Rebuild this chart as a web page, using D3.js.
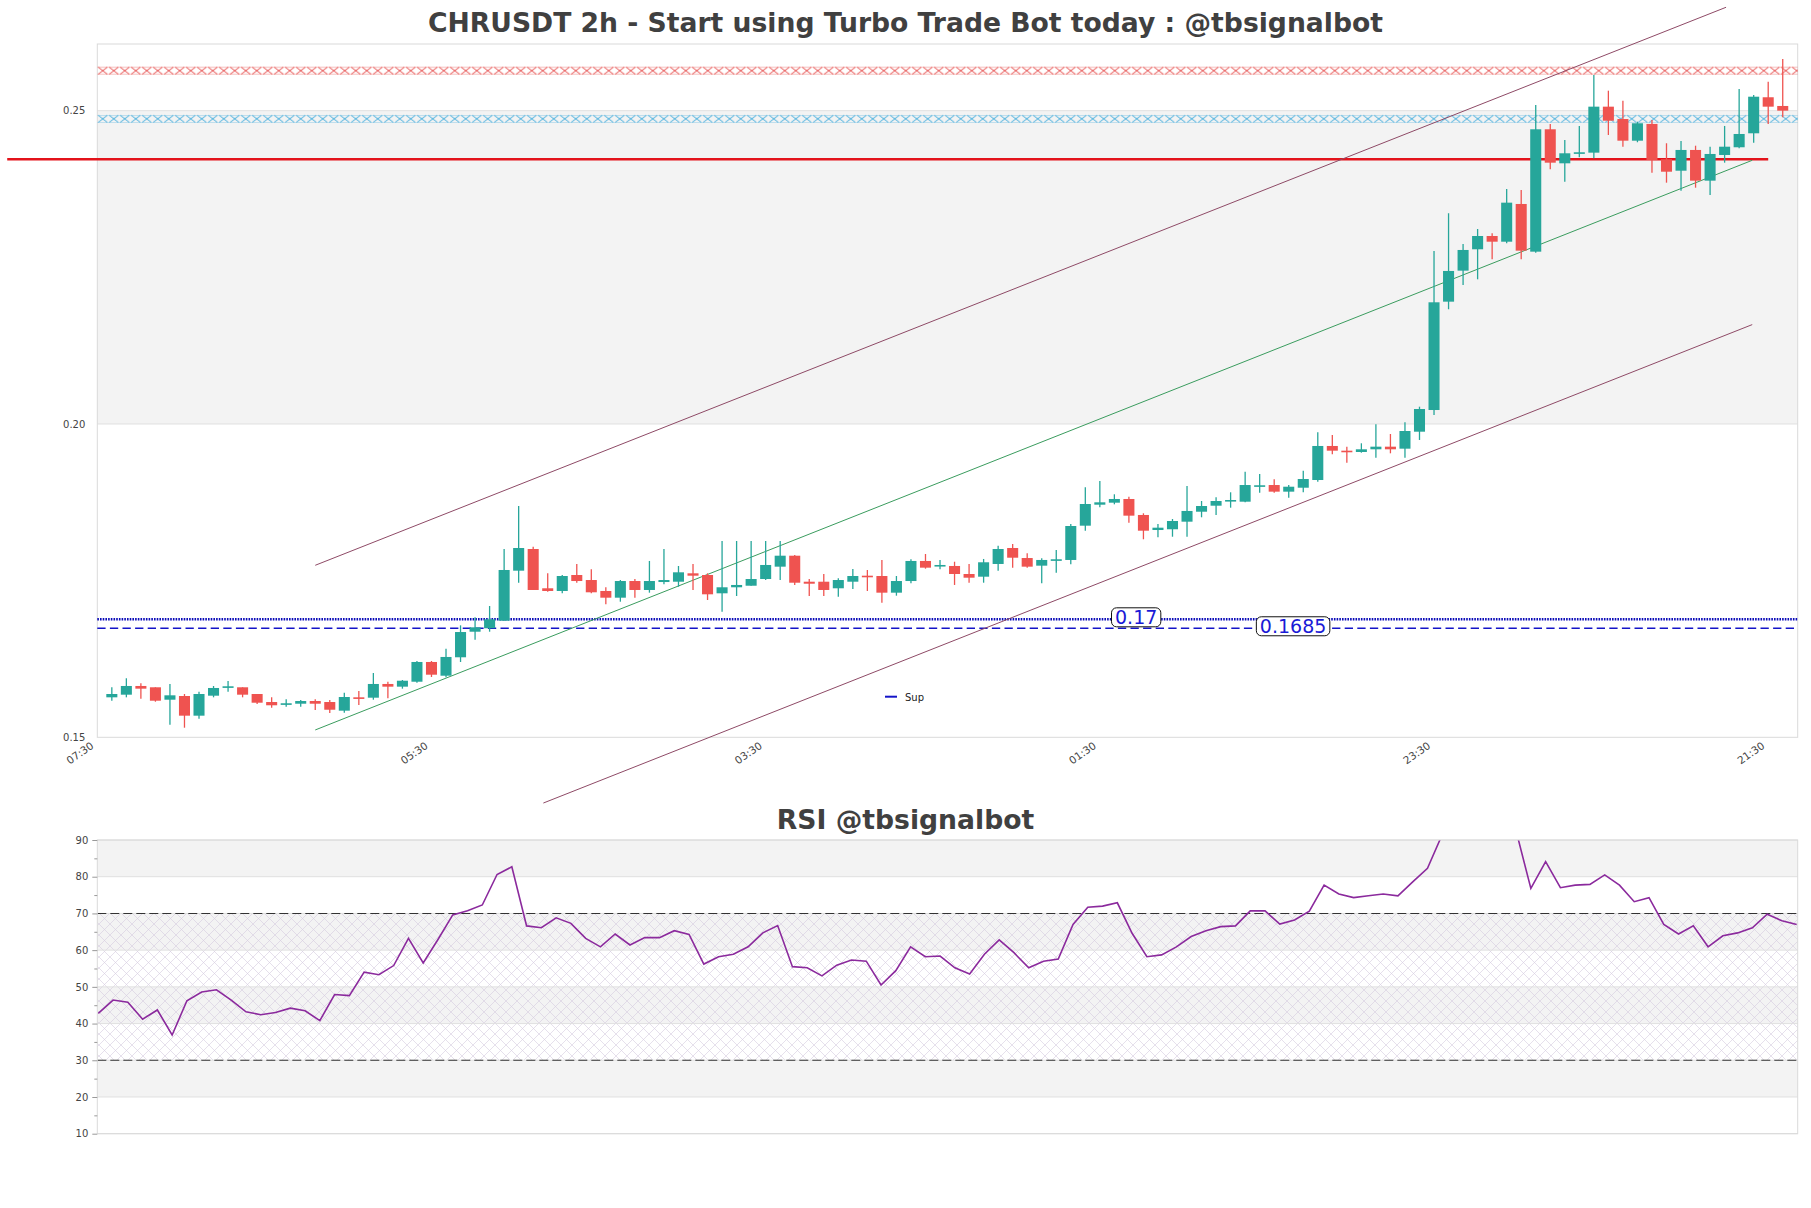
<!DOCTYPE html>
<html>
<head>
<meta charset="utf-8">
<script src="https://cdn.jsdelivr.net/npm/d3@7"></script>
<style>
  body { margin: 0; background: #fff; }
  svg { display: block; }
</style>
</head>
<body>
<div id="chart"></div>
<script>
// CHRUSDT 2h candles (index 0 = first candle)
var openP = [0.15638,0.15680,0.15819,0.15798,0.15600,0.15659,0.15345,0.15664,0.15803,0.15798,
  0.15691,0.15563,0.15531,0.15536,0.15579,0.15563,0.15425,0.15638,0.15632,0.15851,
  0.15808,0.15887,0.16202,0.15983,0.16277,0.16685,0.16740,0.16861,0.17659,0.18005,
  0.17378,0.17335,0.17590,0.17510,0.17335,0.17228,0.17494,0.17351,0.17478,0.17483,
  0.17617,0.17590,0.17298,0.17394,0.17419,0.17526,0.17723,0.17898,0.17483,0.17483,
  0.17378,0.17483,0.17579,0.17574,0.17308,0.17494,0.17814,0.17734,0.17734,0.17606,
  0.17563,0.17766,0.18021,0.17861,0.17739,0.17825,0.17830,0.18377,0.18712,0.18744,
  0.18803,0.18548,0.18308,0.18320,0.18441,0.18600,0.18696,0.18771,0.18760,0.19006,
  0.19026,0.18920,0.18983,0.19106,0.19649,0.19574,0.19553,0.19596,0.19638,0.19606,
  0.19877,0.20223,0.21952,0.22447,0.22788,0.23000,0.22909,0.23511,0.22750,0.24703,
  0.24160,0.24320,0.24330,0.25064,0.24867,0.24521,0.24788,0.24224,0.24042,0.24373,
  0.23883,0.24293,0.24416,0.24639,0.25214,0.25075];
var highP = [0.15798,0.15942,0.15862,0.15798,0.15851,0.15691,0.15728,0.15819,0.15899,0.15798,
  0.15691,0.15638,0.15606,0.15595,0.15606,0.15595,0.15712,0.15739,0.16026,0.15887,
  0.15914,0.16218,0.16218,0.16414,0.16787,0.16915,0.17095,0.18005,0.18691,0.18042,
  0.17617,0.17590,0.17766,0.17681,0.17394,0.17510,0.17526,0.17814,0.18005,0.17734,
  0.17766,0.17617,0.18133,0.18133,0.18133,0.18133,0.18133,0.17909,0.17526,0.17606,
  0.17537,0.17686,0.17670,0.17830,0.17574,0.17841,0.17925,0.17830,0.17802,0.17766,
  0.17846,0.18058,0.18085,0.17936,0.17857,0.17989,0.18404,0.18990,0.19090,0.18878,
  0.18840,0.18575,0.18404,0.18484,0.19011,0.18771,0.18830,0.18910,0.19239,0.19202,
  0.19117,0.19026,0.19255,0.19868,0.19824,0.19638,0.19692,0.19995,0.19840,0.20027,
  0.20276,0.22761,0.23363,0.22873,0.23112,0.23043,0.23750,0.23734,0.25091,0.24788,
  0.24532,0.24756,0.25570,0.25319,0.25160,0.24824,0.24852,0.24480,0.24516,0.24441,
  0.24425,0.24756,0.25346,0.25251,0.25463,0.25825];
var lowP = [0.15584,0.15638,0.15616,0.15568,0.15201,0.15153,0.15297,0.15638,0.15728,0.15638,
  0.15531,0.15472,0.15488,0.15488,0.15436,0.15388,0.15393,0.15515,0.15600,0.15622,
  0.15776,0.15871,0.15962,0.15958,0.16202,0.16558,0.16685,0.16861,0.17467,0.17351,
  0.17324,0.17298,0.17467,0.17298,0.17123,0.17164,0.17228,0.17308,0.17442,0.17403,
  0.17351,0.17191,0.17004,0.17255,0.17419,0.17510,0.17510,0.17431,0.17255,0.17255,
  0.17244,0.17367,0.17335,0.17148,0.17260,0.17458,0.17691,0.17681,0.17431,0.17467,
  0.17467,0.17659,0.17707,0.17707,0.17458,0.17627,0.17761,0.18297,0.18671,0.18718,
  0.18425,0.18160,0.18192,0.18201,0.18201,0.18511,0.18548,0.18664,0.18750,0.18904,
  0.18904,0.18824,0.18910,0.19079,0.19516,0.19382,0.19542,0.19462,0.19532,0.19462,
  0.19745,0.20144,0.21831,0.22218,0.22309,0.22628,0.22884,0.22628,0.22734,0.24065,
  0.23867,0.24256,0.24240,0.24612,0.24425,0.24496,0.24010,0.23851,0.23723,0.23771,
  0.23655,0.24170,0.24400,0.24489,0.24788,0.24895];
var closeP = [0.15691,0.15819,0.15776,0.15584,0.15670,0.15345,0.15691,0.15787,0.15814,0.15680,
  0.15552,0.15511,0.15543,0.15579,0.15536,0.15440,0.15643,0.15622,0.15851,0.15808,
  0.15903,0.16202,0.15999,0.16282,0.16680,0.16755,0.16883,0.17670,0.18021,0.17351,
  0.17335,0.17574,0.17494,0.17314,0.17228,0.17494,0.17351,0.17494,0.17510,0.17633,
  0.17579,0.17282,0.17394,0.17431,0.17526,0.17750,0.17898,0.17467,0.17451,0.17351,
  0.17510,0.17574,0.17563,0.17308,0.17494,0.17814,0.17707,0.17750,0.17606,0.17547,
  0.17793,0.18005,0.17866,0.17723,0.17830,0.17841,0.18372,0.18723,0.18750,0.18803,
  0.18537,0.18297,0.18345,0.18452,0.18612,0.18691,0.18771,0.18787,0.19026,0.19022,
  0.18920,0.18999,0.19122,0.19649,0.19574,0.19558,0.19596,0.19638,0.19596,0.19888,
  0.20239,0.21942,0.22442,0.22777,0.23000,0.22909,0.23532,0.22766,0.24703,0.24170,
  0.24320,0.24336,0.25064,0.24840,0.24521,0.24799,0.24213,0.24026,0.24373,0.23883,
  0.24309,0.24425,0.24628,0.25223,0.25064,0.25000];

// RSI(14), one value per candle
var rsiVals = [42.8,46.4,45.8,41.2,43.7,36.9,46.2,48.6,49.2,46.4,
  43.2,42.4,43.0,44.2,43.5,40.8,47.9,47.6,54.0,53.3,
  55.8,63.2,56.5,62.9,69.6,70.7,72.3,80.6,82.7,66.6,
  66.1,68.8,67.3,63.2,60.9,64.4,61.4,63.4,63.4,65.3,
  64.3,56.2,58.2,58.9,60.9,64.7,66.7,55.5,55.2,53.0,
  55.9,57.3,57.0,50.5,54.4,60.9,58.2,58.4,55.2,53.5,
  58.9,62.8,59.3,55.2,57.0,57.6,67.0,71.7,72.0,72.9,
  64.6,58.2,58.7,60.9,63.7,65.3,66.4,66.6,70.7,70.7,
  67.1,68.2,70.6,77.7,75.3,74.3,74.8,75.3,74.8,78.6,
  82.3,91.5,94.5,95.3,95.8,93.6,92.5,76.8,84.1,77.0,
  77.7,77.9,80.5,77.7,73.2,74.3,67.0,64.4,66.6,60.9,
  63.9,64.7,66.1,69.8,68.0,67.0];

// x axis: candle index of each label (index -1 is the 07:30 bar before the first)
var tickIdx = [-1, 22, 45, 68, 91, 114];
var tickLabels = ["07:30", "05:30", "03:30", "01:30", "23:30", "21:30"];
var priceTicks = [0.15, 0.20, 0.25];
var rsiTicks = [10, 20, 30, 40, 50, 60, 70, 80, 90];

// levels
var resistLevels = [0.25638, 0.24870];           // x-hatched zones
var resistColors = ["#e2302f", "#27a1d9"];
var keyLevel = 0.24224, keyFrom = -7.2, keyTo = 114;
var supLevels = [0.16883, 0.16740];
var supLabels = ["0.17", "0.1685"];
var supLabelIdx = [70.5, 81.3];

// regression channel [index, price]
var chanUpper = [[14, 0.17745], [111.1, 0.26650]];
var chanMid = [[14, 0.15117], [112.9, 0.24208]];
var chanLower = [[29.7, 0.13951], [112.9, 0.21586]];

var W = 1811, H = 1208;
var main = { left: 97.3, right: 1797.7, top: 44, bottom: 737.3 };
var rsiBox = { left: 97.3, right: 1797.7, top: 840, bottom: 1133.7 };

var svg = d3.select("#chart").append("svg")
    .attr("width", W).attr("height", H)
    .style("font-family", "'DejaVu Sans', sans-serif");
var defs = svg.append("defs");

var x = d3.scaleLinear().domain([-1, 116.03]).range([main.left, main.right]);
var y = d3.scaleLinear().domain([0.15, 0.26064]).range([main.bottom, main.top]);
var step = x(1) - x(0);

// title text, scaled so it spans the same width as the original
function title(txt, yPos, width) {
    var t = svg.append("text")
        .attr("x", W / 2).attr("y", yPos)
        .attr("text-anchor", "middle")
        .attr("fill", "#404040").style("font-family", "'DejaVu Sans', sans-serif")
        .style("font-weight", 700).style("font-size", "26px")
        .text(txt);
    var w = t.node().getComputedTextLength();
    t.style("font-size", (26 * width / w).toFixed(2) + "px");
}

// ---------- main panel ----------
var g = svg.append("g");

g.append("rect")
    .attr("x", main.left).attr("y", y(0.25))
    .attr("width", main.right - main.left).attr("height", y(0.20) - y(0.25))
    .attr("fill", "#f3f3f3");

g.selectAll(".grid").data([0.20, 0.25]).enter().append("line")
    .attr("x1", main.left).attr("x2", main.right)
    .attr("y1", d => y(d)).attr("y2", d => y(d))
    .attr("stroke", "#e0e0e0");

g.append("rect")
    .attr("x", main.left).attr("y", main.top)
    .attr("width", main.right - main.left).attr("height", main.bottom - main.top)
    .attr("fill", "none").attr("stroke", "#dadada");

// y labels
g.append("g")
    .attr("transform", `translate(${main.left - 9},0)`)
    .call(d3.axisLeft(y).tickValues(priceTicks).tickSize(0).tickFormat(d3.format(".2f")))
    .call(a => a.select(".domain").remove())
    .selectAll("text")
    .attr("fill", "#444").style("font-size", "10px").style("font-family", "'DejaVu Sans', sans-serif");

// x labels
g.selectAll(".xlab").data(tickIdx).enter().append("text")
    .attr("transform", d => `translate(${x(d) - 7},${main.bottom + 4}) rotate(-35)`)
    .attr("text-anchor", "end").attr("dy", "0.7em")
    .attr("fill", "#444").style("font-size", "10.5px")
    .text((d, i) => tickLabels[i]);

// hatched resistance zones
resistLevels.forEach(function(v, k) {
    var top = y(v) - 4;
    var p = defs.append("pattern").attr("id", "xh" + k)
        .attr("patternUnits", "userSpaceOnUse")
        .attr("x", main.left).attr("y", top)
        .attr("width", 11).attr("height", 8);
    p.append("path")
        .attr("d", "M1,0.5L10,7.5M10,0.5L1,7.5")
        .attr("stroke", resistColors[k]).attr("stroke-width", 0.9).attr("fill", "none");
    g.append("rect")
        .attr("x", main.left).attr("y", top)
        .attr("width", main.right - main.left).attr("height", 8)
        .attr("fill", "url(#xh" + k + ")");
    g.selectAll(".xb" + k).data([top + 0.5, top + 7.5]).enter().append("line")
        .attr("x1", main.left).attr("x2", main.right)
        .attr("y1", d => d).attr("y2", d => d)
        .attr("stroke", resistColors[k]).attr("stroke-width", 0.6).attr("opacity", 0.5);
});

// key level
g.append("line")
    .attr("x1", x(keyFrom)).attr("x2", x(keyTo))
    .attr("y1", y(keyLevel)).attr("y2", y(keyLevel))
    .attr("stroke", "#e3131b").attr("stroke-width", 2.6);

// support lines
g.append("line")
    .attr("x1", main.left).attr("x2", main.right)
    .attr("y1", y(supLevels[0])).attr("y2", y(supLevels[0]))
    .attr("stroke", "#0c0cb8").attr("stroke-width", 2.4).attr("stroke-dasharray", "1.6,1.1");
g.append("line")
    .attr("x1", main.left).attr("x2", main.right)
    .attr("y1", y(supLevels[1])).attr("y2", y(supLevels[1]))
    .attr("stroke", "#1414c8").attr("stroke-width", 1.4).attr("stroke-dasharray", "8.3,4.3");

// channel
var chanLine = d3.line().x(d => x(d[0])).y(d => y(d[1]));
g.append("path").attr("d", chanLine(chanUpper)).attr("stroke", "#8e4a66").attr("stroke-width", 1).attr("fill", "none");
g.append("path").attr("d", chanLine(chanLower)).attr("stroke", "#8e4a66").attr("stroke-width", 1).attr("fill", "none");
g.append("path").attr("d", chanLine(chanMid)).attr("stroke", "#3a9c5e").attr("stroke-width", 1).attr("fill", "none");

// candles
var candles = openP.map(function(o, i) {
    return { i: i, o: o, h: highP[i], l: lowP[i], c: closeP[i] };
});
var bodyW = step * 0.76;
var cg = g.append("g");
var cs = cg.selectAll(".candle").data(candles).enter().append("g");
cs.append("line")
    .attr("x1", d => x(d.i)).attr("x2", d => x(d.i))
    .attr("y1", d => y(d.h)).attr("y2", d => y(d.l))
    .attr("stroke", d => d.c >= d.o ? "#26a69a" : "#ef5350")
    .attr("stroke-width", 1.3);
cs.append("rect")
    .attr("x", d => x(d.i) - bodyW / 2).attr("width", bodyW)
    .attr("y", d => y(Math.max(d.o, d.c)))
    .attr("height", d => Math.max(1.6, Math.abs(y(d.o) - y(d.c))))
    .attr("fill", d => d.c >= d.o ? "#26a69a" : "#ef5350");

// level labels
supLevels.forEach(function(v, k) {
    var lg = g.append("g").attr("transform", `translate(${x(supLabelIdx[k])},${y(v) - 2})`);
    var t = lg.append("text")
        .attr("text-anchor", "middle").attr("dy", "0.36em")
        .attr("fill", "#1a1ad6").style("font-size", "19px")
        .text(supLabels[k]);
    var w = t.node().getComputedTextLength() + 7;
    lg.insert("rect", "text")
        .attr("x", -w / 2).attr("y", -9.5).attr("width", w).attr("height", 19)
        .attr("rx", 5).attr("fill", "#fff").attr("stroke", "#111").attr("stroke-width", 1);
});

// legend
g.append("line").attr("x1", 885).attr("x2", 897).attr("y1", 696.7).attr("y2", 696.7)
    .attr("stroke", "#1414c8").attr("stroke-width", 2);
g.append("text").attr("x", 905).attr("y", 700.5).attr("fill", "#222")
    .style("font-size", "10px").text("Sup");

title("CHRUSDT 2h - Start using Turbo Trade Bot today : @tbsignalbot", 32, 955);

// ---------- RSI panel ----------
var rx = d3.scaleLinear().domain([0, rsiVals.length - 1]).range([rsiBox.left + 1, rsiBox.right - 1]);
var ry = d3.scaleLinear().domain([10, 90]).range([rsiBox.bottom, rsiBox.top]);
var r = svg.append("g");

r.selectAll(".band").data([20, 40, 60, 80]).enter().append("rect")
    .attr("x", rsiBox.left).attr("y", d => ry(d + 10))
    .attr("width", rsiBox.right - rsiBox.left).attr("height", d => ry(d) - ry(d + 10))
    .attr("fill", "#f3f3f3");

var hp = defs.append("pattern").attr("id", "rsiHatch")
    .attr("patternUnits", "userSpaceOnUse").attr("width", 11).attr("height", 11);
hp.append("path").attr("d", "M0,0L11,11M11,0L0,11")
    .attr("stroke", "#d5cbdf").attr("stroke-width", 0.6).attr("fill", "none");
r.append("rect")
    .attr("x", rsiBox.left).attr("y", ry(70))
    .attr("width", rsiBox.right - rsiBox.left).attr("height", ry(30) - ry(70))
    .attr("fill", "url(#rsiHatch)");

r.selectAll(".rgrid").data(rsiTicks).enter().append("line")
    .attr("x1", rsiBox.left).attr("x2", rsiBox.right)
    .attr("y1", d => ry(d)).attr("y2", d => ry(d))
    .attr("stroke", "#e0e0e0");

r.selectAll(".ob").data([70, 30]).enter().append("line")
    .attr("x1", rsiBox.left).attr("x2", rsiBox.right)
    .attr("y1", d => ry(d)).attr("y2", d => ry(d))
    .attr("stroke", "#333").attr("stroke-width", 1.1).attr("stroke-dasharray", "9,4");

defs.append("clipPath").attr("id", "rsiClip").append("rect")
    .attr("x", rsiBox.left).attr("y", rsiBox.top)
    .attr("width", rsiBox.right - rsiBox.left).attr("height", rsiBox.bottom - rsiBox.top);

r.append("path")
    .datum(rsiVals)
    .attr("clip-path", "url(#rsiClip)")
    .attr("d", d3.line().x((d, i) => rx(i)).y(d => ry(d)))
    .attr("fill", "none").attr("stroke", "#8b2a9d").attr("stroke-width", 1.6);

r.append("rect")
    .attr("x", rsiBox.left).attr("y", rsiBox.top)
    .attr("width", rsiBox.right - rsiBox.left).attr("height", rsiBox.bottom - rsiBox.top)
    .attr("fill", "none").attr("stroke", "#dadada");

var ax = r.append("g").attr("transform", `translate(${rsiBox.left},0)`)
    .call(d3.axisLeft(ry).tickValues(rsiTicks).tickSize(5).tickPadding(4));
ax.select(".domain").remove();
ax.selectAll("line").attr("stroke", "#999");
ax.selectAll("text").attr("fill", "#444").style("font-size", "10px").style("font-family", "'DejaVu Sans', sans-serif");
r.append("g").attr("transform", `translate(${rsiBox.left},0)`)
    .call(d3.axisLeft(ry).tickValues(d3.range(15, 90, 10)).tickSize(3).tickFormat(""))
    .call(a => a.select(".domain").remove())
    .selectAll("line").attr("stroke", "#999");

title("RSI @tbsignalbot", 829, 257.6);
</script>
</body>
</html>
